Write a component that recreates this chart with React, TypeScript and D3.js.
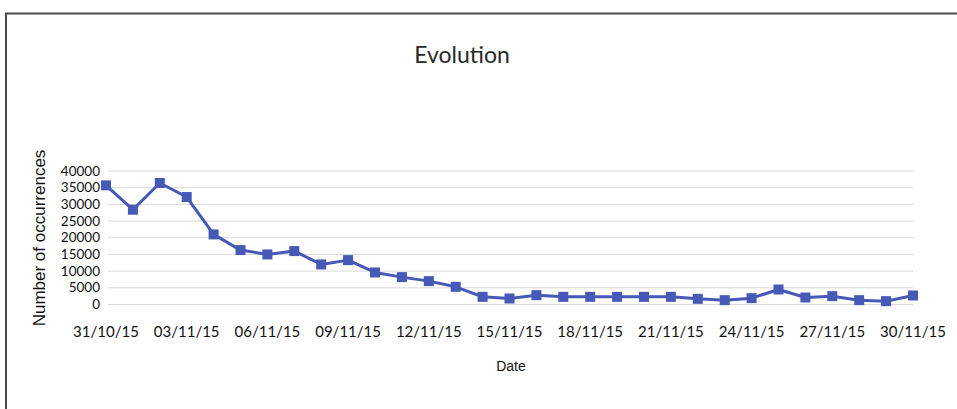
import React, { useEffect, useRef } from "react";
import * as d3 from "d3";

// daily dates, 31/10/15 .. 30/11/15
const dates = [
  "31/10/15", "01/11/15", "02/11/15", "03/11/15", "04/11/15", "05/11/15",
  "06/11/15", "07/11/15", "08/11/15", "09/11/15", "10/11/15", "11/11/15",
  "12/11/15", "13/11/15", "14/11/15", "15/11/15", "16/11/15", "17/11/15",
  "18/11/15", "19/11/15", "20/11/15", "21/11/15", "22/11/15", "23/11/15",
  "24/11/15", "25/11/15", "26/11/15", "27/11/15", "28/11/15", "29/11/15",
  "30/11/15",
];

const occurrences = [
  35700, 28400, 36400, 32200, 21000, 16300, 15000, 16000, 12000, 13300,
  9600, 8200, 7000, 5300, 2300, 1800, 2800, 2300, 2300, 2300,
  2300, 2300, 1700, 1300, 1900, 4500, 2100, 2500, 1300, 1000,
  2700,
];

const yTicks = [0, 5000, 10000, 15000, 20000, 25000, 30000, 35000, 40000];
const xTickLabels = dates.filter((_, i) => i % 3 === 0);

const W = 957;
const H = 409;
const BLUE = "#4659b6";

const App = () => {
  const ref = useRef(null);

  useEffect(() => {
    const svg = d3.select(ref.current);
    svg.selectAll("*").remove();

    const x = d3.scalePoint().domain(dates).range([106, 913]);
    const y = d3.scaleLinear().domain([0, 40000]).range([304.5, 171]);

    // frame
    svg.append("path")
      .attr("d", `M6,${H} L6,13.5 L${W},13.5`)
      .attr("fill", "none")
      .attr("stroke", "#4a4a4a")
      .attr("stroke-width", 2);

    svg.append("text")
      .attr("x", 462)
      .attr("y", 63)
      .attr("text-anchor", "middle")
      .style("font-family", "Lato, sans-serif")
      .style("font-size", "23px")
      .style("fill", "#2a2a2a")
      .text("Evolution");

    const g = svg.append("g");

    // gridlines
    g.selectAll("line.grid")
      .data(yTicks)
      .join("line")
      .attr("class", "grid")
      .attr("x1", 108)
      .attr("x2", 913)
      .attr("y1", (d) => y(d))
      .attr("y2", (d) => y(d))
      .attr("stroke", "#d9d9d9")
      .attr("stroke-width", 1);

    // y tick labels
    g.selectAll("text.ytick")
      .data(yTicks)
      .join("text")
      .attr("class", "ytick")
      .attr("x", 100)
      .attr("y", (d) => y(d) + 4.5)
      .attr("text-anchor", "end")
      .style("font-family", "Lato, sans-serif")
      .style("font-size", "13.5px")
      .style("fill", "#111")
      .text((d) => d);

    // x tick labels
    g.selectAll("text.xtick")
      .data(xTickLabels)
      .join("text")
      .attr("class", "xtick")
      .attr("x", (d) => x(d))
      .attr("y", 337)
      .attr("text-anchor", "middle")
      .style("font-family", "Lato, sans-serif")
      .style("font-size", "15px")
      .style("fill", "#111")
      .text((d) => d);

    // axis titles
    svg.append("text")
      .attr("transform", `translate(45,238) rotate(-90)`)
      .attr("text-anchor", "middle")
      .style("font-family", "'Liberation Sans', Arial, sans-serif")
      .style("font-size", "17px")
      .style("fill", "#111")
      .text("Number of occurrences");

    svg.append("text")
      .attr("x", 511)
      .attr("y", 371)
      .attr("text-anchor", "middle")
      .style("font-family", "'Liberation Sans', Arial, sans-serif")
      .style("font-size", "14px")
      .style("fill", "#111")
      .text("Date");

    // line + markers
    const line = d3.line()
      .x((d, i) => x(dates[i]))
      .y((d) => y(d));

    g.append("path")
      .datum(occurrences)
      .attr("d", line)
      .attr("fill", "none")
      .attr("stroke", BLUE)
      .attr("stroke-width", 3)
      .attr("stroke-linejoin", "round");

    g.selectAll("rect.marker")
      .data(occurrences)
      .join("rect")
      .attr("class", "marker")
      .attr("x", (d, i) => x(dates[i]) - 5)
      .attr("y", (d) => y(d) - 5)
      .attr("width", 10)
      .attr("height", 10)
      .attr("fill", BLUE);
  }, []);

  return (
    <svg
      ref={ref}
      width={W}
      height={H}
      style={{ position: "absolute", top: 0, left: 0, background: "#fff" }}
    ></svg>
  );
};

export default App;
